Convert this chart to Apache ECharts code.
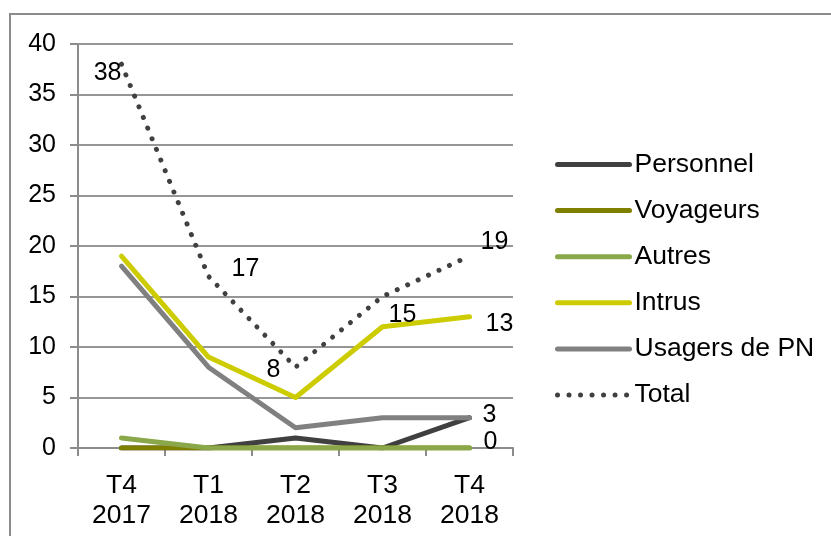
<!DOCTYPE html>
<html>
<head>
<meta charset="utf-8">
<script src="https://cdn.jsdelivr.net/npm/echarts@6/dist/echarts.min.js"></script>
<style>
html,body{margin:0;padding:0;background:#fff;}
#chart{width:831px;height:536px;}
</style>
</head>
<body>
<div id="chart"></div>
<script>
var categories = ['T4\n2017', 'T1\n2018', 'T2\n2018', 'T3\n2018', 'T4\n2018'];
var yTicks = [0, 5, 10, 15, 20, 25, 30, 35, 40];
var personnel = [0, 0, 1, 0, 3];
var voyageurs = [0, 0, 0, 0, 0];
var autres = [1, 0, 0, 0, 0];
var intrus = [19, 9, 5, 12, 13];
var usagers = [18, 8, 2, 3, 3];
var total = [38, 17, 8, 15, 19];

var FONT = 'Liberation Sans, Arial, sans-serif';
var FS = 25;
var FS2 = 26.5;

function lbl(pos, offset) {
  return { show: true, position: pos, offset: offset, fontSize: FS, fontFamily: FONT, color: '#000' };
}
function withLabels(values, labels) {
  return values.map(function (v, i) {
    return labels[i] ? { value: v, label: labels[i] } : v;
  });
}

var chart = echarts.init(document.getElementById('chart'), null, { renderer: 'canvas' });

function solid(name, color, values, labels) {
  return {
    name: name, type: 'line', data: withLabels(values, labels || []),
    showSymbol: true, symbol: 'circle', symbolSize: 2, animation: false,
    lineStyle: { color: color, width: 5, cap: 'round', join: 'round' },
    itemStyle: { color: 'rgba(0,0,0,0)' },
    label: { show: false }
  };
}

var option = {
  animation: false,
  backgroundColor: '#fff',
  graphic: [{
    type: 'rect', shape: { x: 10, y: 14, width: 900, height: 600 },
    style: { fill: null, stroke: '#8c8c8c', lineWidth: 2 }, silent: true
  }],
  grid: { left: 78, right: 318, top: 44, bottom: 88 },
  legend: {
    orient: 'vertical', left: 550, top: 146, itemWidth: 72, itemHeight: 26, itemGap: 19.1,
    itemStyle: { opacity: 0 },
    lineStyle: { width: 5 },
    textStyle: { fontSize: FS2, fontFamily: FONT, color: '#000' },
    data: ['Personnel', 'Voyageurs', 'Autres', 'Intrus', 'Usagers de PN', 'Total']
  },
  xAxis: {
    type: 'category', data: categories, boundaryGap: true,
    axisLine: { lineStyle: { color: '#8c8c8c', width: 2 } },
    axisTick: { show: true, length: 8, interval: 0, lineStyle: { color: '#8c8c8c', width: 2 } },
    axisLabel: { fontSize: FS2, fontFamily: FONT, color: '#000', lineHeight: 30, margin: 23, interval: 0 }
  },
  yAxis: {
    type: 'value', min: yTicks[0], max: yTicks[yTicks.length - 1], interval: 5,
    axisLine: { show: true, lineStyle: { color: '#8c8c8c', width: 2 } },
    axisTick: { show: true, length: 8, lineStyle: { color: '#8c8c8c', width: 2 } },
    splitLine: { show: true, lineStyle: { color: '#969696', width: 2 } },
    axisLabel: { fontSize: FS, fontFamily: FONT, color: '#000', margin: 22 }
  },
  series: [
    solid('Personnel', '#404040', personnel, [null, null, null, null, lbl('right', [7, -3])]),
    solid('Voyageurs', '#7f7f00', voyageurs, [null, null, null, null, lbl('right', [8, -6])]),
    solid('Autres', '#8aa84a', autres),
    solid('Intrus', '#cccc00', intrus, [null, null, null, null, lbl('right', [10, 7])]),
    solid('Usagers de PN', '#808080', usagers),
    {
      name: 'Total', type: 'line',
      data: withLabels(total, [lbl('left', [6, 9]), lbl('right', [17, -7]), lbl('left', [-9, 3]), lbl('right', [0, 19]), lbl('right', [5, -14])]),
      showSymbol: true, symbol: 'circle', symbolSize: 2, animation: false,
      lineStyle: { color: '#404040', width: 5, type: [0.01, 11.5], cap: 'round' },
      itemStyle: { color: 'rgba(0,0,0,0)' }
    }
  ]
};
chart.setOption(option);
</script>
</body>
</html>
